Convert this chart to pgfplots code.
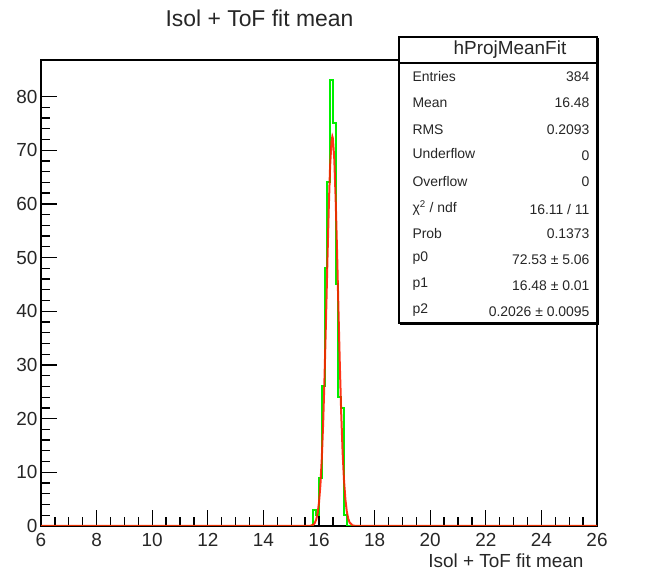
\documentclass[border=0pt]{standalone}
\usepackage{pgfplots}
\pgfplotsset{compat=1.18}
\usepackage{fontspec}
\setmainfont{Liberation Sans}
\definecolor{rootgreen}{RGB}{0,240,0}
\definecolor{rootred}{RGB}{255,30,0}
\begin{document}
\begin{tikzpicture}
\path[use as bounding box] (-41bp,-47bp) rectangle (610bp,526bp);
\begin{axis}[
  scale only axis,
  width=556bp, height=466bp,
  xmin=6, xmax=26, ymin=0, ymax=86.8,
  xtick={6,8,...,26}, ytick={0,10,...,80},
  minor x tick num=3, minor y tick num=4,
  xtick pos=bottom, ytick pos=left,
  tick align=inside,
  major tick length=16bp, minor tick length=9bp,
  every tick/.style={black, line width=1.3bp},
  axis line style={line width=1.6bp},
  /pgf/number format/assume math mode=true,
  tick label style={font=\fontsize{19}{19}\selectfont, text=black!85},
  xticklabel style={yshift=-4bp},
  clip=true,
]
\addplot[rootgreen, line width=2bp, const plot] coordinates {
(6.0,0) (15.8,3) (15.9,2) (16.0,9) (16.1,26) (16.2,48) (16.3,64) (16.4,83)
(16.5,75) (16.6,45) (16.7,24) (16.8,22) (16.9,2) (17.0,0) (26.0,0)
};
\addplot[rootred, line width=2bp, opacity=0.9] coordinates {
(6.0,0) (15.5,0) (15.6,0.006) (15.7,0.044) (15.8,0.26) (15.85,0.58) (15.9,1.20) (15.95,2.37)
(16.0,4.38) (16.05,7.63) (16.1,12.49) (16.15,19.25) (16.2,27.91) (16.25,38.08)
(16.3,48.88) (16.35,59.03) (16.4,67.09) (16.45,71.74) (16.48,72.53) (16.5,72.18)
(16.55,68.32) (16.6,60.86) (16.65,51.01) (16.7,40.22) (16.75,29.85) (16.8,20.84)
(16.85,13.69) (16.9,8.46) (16.95,4.92) (17.0,2.69) (17.05,1.39) (17.1,0.67)
(17.2,0.13) (17.3,0.02) (17.4,0) (26.0,0)
};
\end{axis}
% title and axis label
\node[anchor=west, font=\fontsize{23}{23}\selectfont, text=black!85] at (121bp,508bp) {Isol + ToF fit mean};
\node[anchor=east, font=\fontsize{19}{19}\selectfont, text=black!85] at (546bp,-35bp) {Isol + ToF fit mean};
% stats box
\fill[white] (358bp,203bp) rectangle (556bp,489bp);
\draw[line width=1.2bp] (358bp,203bp) rectangle (556bp,489bp);
\draw[line width=2.2bp] (359bp,202bp) -- (557bp,202bp) -- (557bp,488bp);
\draw[line width=1.2bp] (358bp,463bp) -- (556bp,463bp);
\node[font=\fontsize{19}{19}\selectfont, text=black!85] at (469bp,476bp) {hProjMeanFit};
\begin{scope}[every node/.style={font=\fontsize{14}{14}\selectfont, text=black!85}]
\node[anchor=west] at (368bp,449bp) {Entries};
\node[anchor=east] at (552bp,449bp) {384};
\node[anchor=west] at (368bp,423bp) {Mean};
\node[anchor=east] at (552bp,423bp) {16.48};
\node[anchor=west] at (368bp,396bp) {RMS};
\node[anchor=east] at (552bp,396bp) {0.2093};
\node[anchor=west] at (368bp,372bp) {Underflow};
\node[anchor=east] at (552bp,370bp) {0};
\node[anchor=west] at (368bp,344bp) {Overflow};
\node[anchor=east] at (552bp,344bp) {0};
\node[anchor=west] at (368bp,318bp) {χ\textsuperscript{2} / ndf};
\node[anchor=east] at (552bp,316bp) {16.11 / 11};
\node[anchor=west] at (368bp,292bp) {Prob};
\node[anchor=east] at (552bp,292bp) {0.1373};
\node[anchor=west] at (368bp,268bp) {p0};
\node[anchor=east] at (552bp,266bp) {72.53 ± 5.06};
\node[anchor=west] at (368bp,242bp) {p1};
\node[anchor=east] at (552bp,240bp) {16.48 ± 0.01};
\node[anchor=west] at (368bp,216bp) {p2};
\node[anchor=east] at (552bp,214bp) {0.2026 ± 0.0095};
\end{scope}
\end{tikzpicture}
\end{document}
